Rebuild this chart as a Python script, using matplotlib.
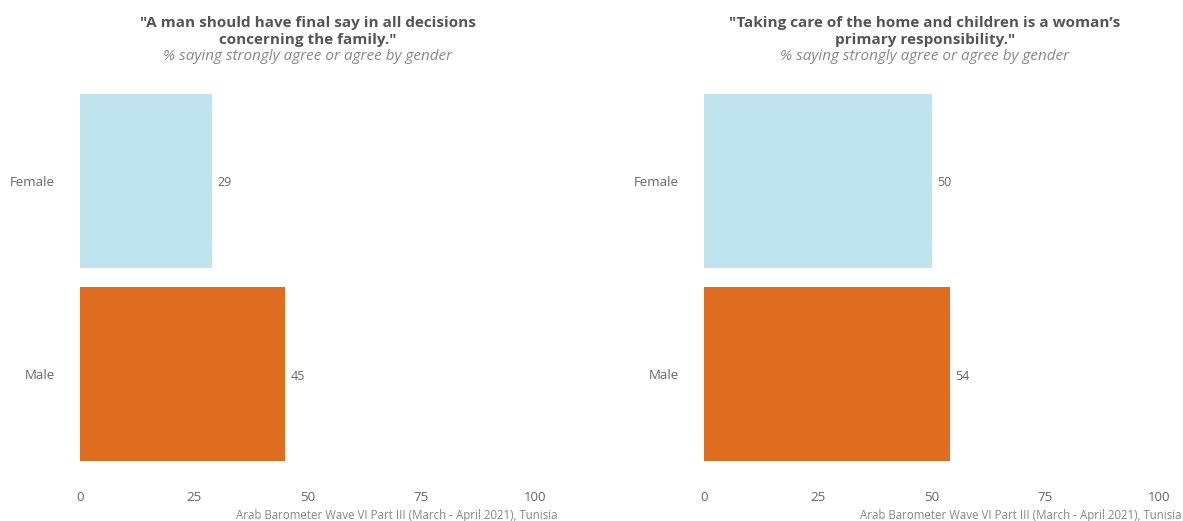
import matplotlib
matplotlib.use("Agg")
import matplotlib.pyplot as plt

plt.rcParams["font.family"] = ["Open Sans", "DejaVu Sans"]

CATEGORIES = ["Female", "Male"]
FINAL_SAY = [29, 45]
HOME_CARE = [50, 54]
TITLES = [
    "\"A man should have final say in all decisions\nconcerning the family.\"",
    "\"Taking care of the home and children is a woman\u2019s\nprimary responsibility.\"",
]
SUBTITLE = "% saying strongly agree or agree by gender"
CAPTION = "Arab Barometer Wave VI Part III (March - April 2021), Tunisia"
XTICKS = [0, 25, 50, 75, 100]

COLORS = ["#c0e4ed", "#df6d1f"]
TEXT_GRAY = "#666666"

W, H = 1183, 521
fig = plt.figure(figsize=(W / 100, H / 100), dpi=100)


def add_panel(left_px, right_px, values, title, title_center_px):
    ax = fig.add_axes([left_px / W, 1 - 490 / H, (right_px - left_px) / W, (490 - 65) / H])
    ypos = list(range(len(CATEGORIES)))
    ax.barh(ypos, values, height=0.9, color=COLORS)
    for y, v in zip(ypos, values):
        ax.annotate(str(v), xy=(v, y), xytext=(4, -1.5), textcoords="offset points",
                    va="center", ha="left", fontsize=9, color=TEXT_GRAY)
    ax.set_xlim(0, 105)
    ax.set_ylim(1.6, -0.6)
    ax.set_yticks(ypos)
    ax.set_yticklabels(CATEGORIES)
    ax.set_xticks(XTICKS)
    ax.tick_params(axis="both", length=0, labelsize=9.5, labelcolor=TEXT_GRAY)
    ax.tick_params(axis="y", pad=18)
    ax.tick_params(axis="x", pad=1)
    for s in ax.spines.values():
        s.set_visible(False)
    fig.text(title_center_px / W, 1 - 16 / H, title, ha="center", va="top",
             fontsize=11, fontweight="bold", color="#555555", linespacing=1.3)
    fig.text(title_center_px / W, 1 - 57 / H, SUBTITLE, ha="center", va="center",
             fontsize=11, style="italic", color="#888888")
    fig.text(right_px / W, 1 - 516 / H, CAPTION, ha="right", va="center",
             fontsize=8.3, color="#888888")
    return ax


add_panel(80, 558, FINAL_SAY, TITLES[0], 308)
add_panel(704, 1182, HOME_CARE, TITLES[1], 925)

fig.savefig("out.png", dpi=100)
